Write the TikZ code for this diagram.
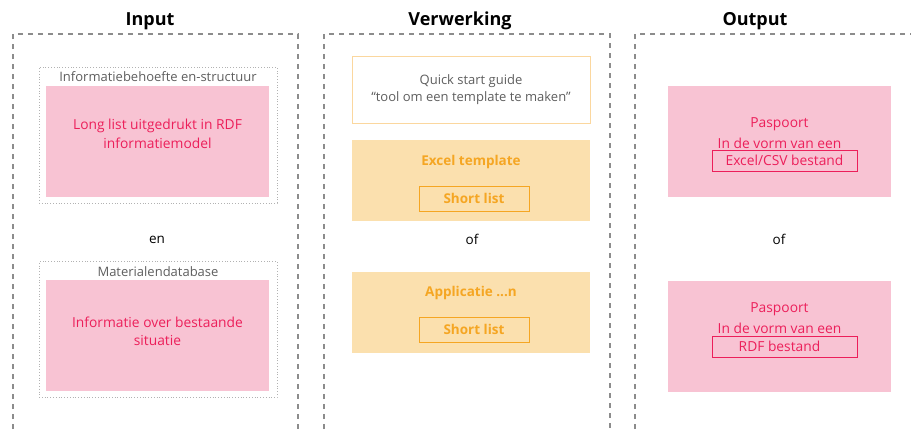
\documentclass[tikz,border=0pt]{standalone}
\usepackage{fontspec}
\setmainfont{Open Sans}
\usetikzlibrary{positioning}

\definecolor{pinkfill}{HTML}{F8C3D3}
\definecolor{pinktxt}{HTML}{EC1F5A}
\definecolor{orangefill}{HTML}{FBE0AE}
\definecolor{orangetxt}{HTML}{F5A623}
\definecolor{orangeline}{HTML}{FBD79E}
\definecolor{graytxt}{HTML}{5E5E5E}
\definecolor{dashgray}{HTML}{8C8C8C}

\begin{document}
\begin{tikzpicture}[x=1pt, y=-1pt,
    every node/.style={inner sep=0pt, outer sep=0pt},
    column/.style={dashgray, line width=1.2pt, dash pattern=on 5pt off 5pt},
    title/.style={font=\fontsize{18}{22}\selectfont\bfseries},
    group/.style={draw=black!30, dotted, line width=0.8pt, minimum width=238, minimum height=136},
    grouplabel/.style={text=graytxt, font=\fontsize{13}{15}\selectfont},
    pinkbox/.style={fill=pinkfill, minimum width=223, minimum height=111},
    pinktext/.style={text=pinktxt, font=\fontsize{13.8}{18.5}\selectfont, align=center},
    guidebox/.style={draw=orangeline, line width=1pt, minimum width=238, minimum height=67},
    orangebox/.style={fill=orangefill, minimum width=238, minimum height=81},
    orangetext/.style={text=orangetxt, font=\fontsize{13.5}{16}\selectfont\bfseries},
    listbox/.style={draw=orangetxt, line width=1pt, minimum width=110, minimum height=25},
    filebox/.style={draw=pinktxt, line width=1pt, minimum width=145, minimum height=21},
    conj/.style={font=\fontsize{13.5}{16}\selectfont}]

\useasboundingbox (0,0) rectangle (911,429);

% kolommen
\draw[column] (13,429) -- (13,34) -- (298,34) -- (298,429);
\draw[column] (324,429) -- (324,34) -- (610,34) -- (610,429);
\draw[column] (635,429) -- (635,34) -- (911,34);

\node[title] (input) at (150,21) {Input};
\node[title] (verwerking) at (460,21) {Verwerking};
\node[title] (output) at (755,21) {Output};

% Input
\node[group] (behoefte) at (158,135) {};
\node[grouplabel] (behoeftelabel) at (158,77) {Informatiebehoefte en-structuur};
\node[pinkbox] (longlist) at (157.5,141.5) {};
\node[pinktext] (longlisttext) at (157.5,134) {Long list uitgedrukt in RDF\\informatiemodel};

\node[conj] (en) at (157,240) {en};

\node[group] (database) at (158,329.5) {};
\node[grouplabel] (databaselabel) at (158,272) {Materialendatabase};
\node[pinkbox] (bestaand) at (157.5,335.5) {};
\node[pinktext] (bestaandtext) at (157.5,331.5) {Informatie over bestaande\\situatie};

% Verwerking
\node[guidebox, text=graytxt, font=\fontsize{13}{16.5}\selectfont, align=center] (guide) at (471,89.5)
    {Quick start guide\\``tool om een template te maken''};

\node[orangebox] (excel) at (471,180.5) {};
\node[orangetext] (exceltext) at (471,162) {Excel template};
\node[listbox, orangetext] (short1) at (474,198.5) {Short list};

\node[conj] (of1) at (472,239) {of};

\node[orangebox] (app) at (471,312) {};
\node[orangetext] (apptext) at (471,293) {Applicatie ...n};
\node[listbox, orangetext] (short2) at (474,329.5) {Short list};

% Output
\node[pinkbox] (paspoort1) at (779.5,141.5) {};
\node[pinktext] (pas1) at (779.5,124) {Paspoort};
\node[pinktext] (vorm1) at (779.5,143) {In de vorm van een};
\node[filebox, pinktext] (csv) at (784.5,160.5) {Excel/CSV bestand};

\node[conj] (of2) at (779,239) {of};

\node[pinkbox] (paspoort2) at (779.5,336) {};
\node[pinktext] (pas2) at (779.5,309) {Paspoort};
\node[pinktext] (vorm2) at (779.5,328) {In de vorm van een};
\node[filebox] (rdfbox) at (784.5,347) {};
\node[pinktext] (rdf) at (779.5,346) {RDF bestand};

\end{tikzpicture}
\end{document}
